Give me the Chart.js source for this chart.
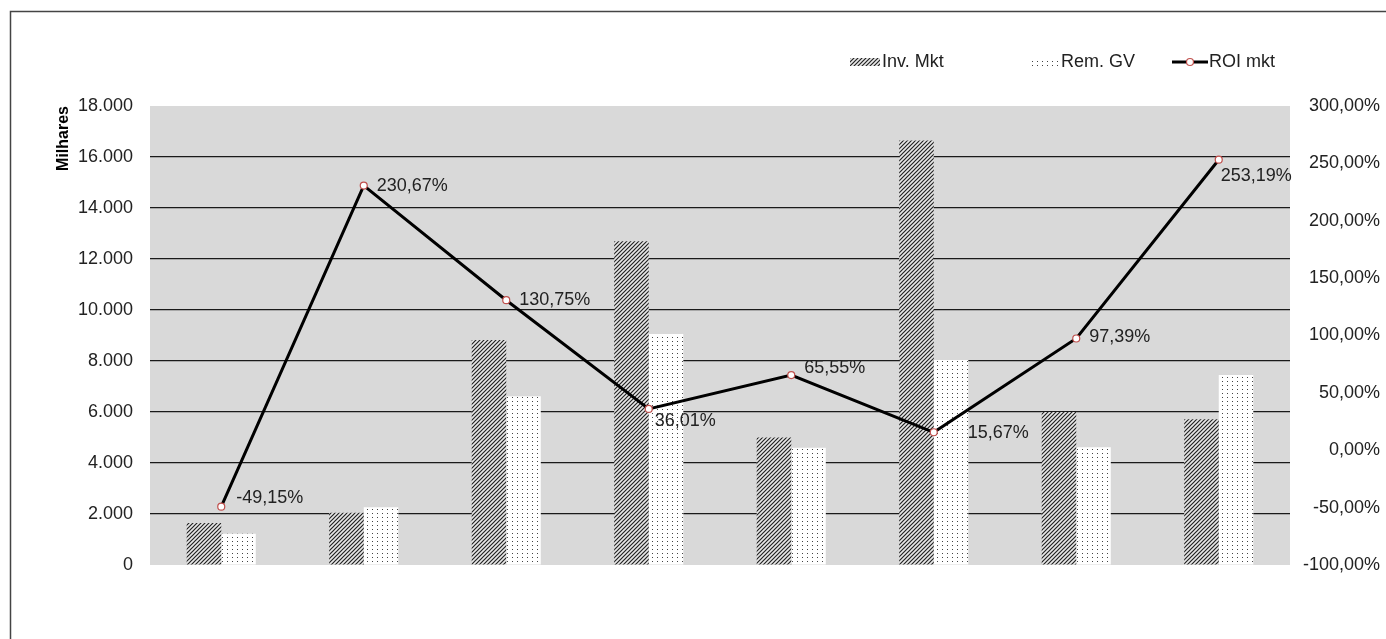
<!DOCTYPE html>
<html>
<head>
<meta charset="utf-8">
<script src="https://cdn.jsdelivr.net/npm/chart.js@4"></script>
<style>
  html, body { margin: 0; padding: 0; background: #fff; }
  #wrap { width: 1386px; height: 639px; position: relative; }
</style>
</head>
<body>
<div id="wrap"><canvas id="chart"></canvas></div>
<script>
const categories = ['1', '2', '3', '4', '5', '6', '7', '8'];
const invMkt = [1650, 2050, 8820, 12700, 5000, 16650, 6000, 5720];
const remGV = [1230, 2260, 6620, 9060, 4600, 8040, 4620, 7450];
const roiMkt = [-49.15, 230.67, 130.75, 36.01, 65.55, 15.67, 97.39, 253.19];

// label nudges (px) for the ROI values, as in the original
const labelDx = [15, 13, 13, 6, 13, 34, 13, 2];
const labelDy = [-9, 0, 0, 12, -7, 1, -1, 16];

const FONT = '"Liberation Sans", Arial, sans-serif';
const fmtThousands = v => v === 0 ? '0' : v.toLocaleString('de-DE');
const fmtPct = v => v.toFixed(2).replace('.', ',') + '%';

function hatchPattern() {
  const c = document.createElement('canvas');
  c.width = 4; c.height = 4;
  const g = c.getContext('2d');
  g.fillStyle = '#e8e8e8';
  g.fillRect(0, 0, 4, 4);
  g.strokeStyle = '#222';
  g.lineWidth = 1.2;
  g.beginPath();
  g.moveTo(-1, 5); g.lineTo(5, -1);
  g.moveTo(-1, 1); g.lineTo(1, -1);
  g.moveTo(3, 5); g.lineTo(5, 3);
  g.stroke();
  return g.createPattern(c, 'repeat');
}

function dotPattern() {
  const c = document.createElement('canvas');
  c.width = 5; c.height = 4;
  const g = c.getContext('2d');
  g.fillStyle = '#ffffff';
  g.fillRect(0, 0, 5, 4);
  g.fillStyle = '#444';
  g.fillRect(2, 1, 1, 1);
  return g.createPattern(c, 'repeat');
}

const hatch = hatchPattern();
const dots = dotPattern();

const decor = {
  id: 'decor',
  beforeDraw(chart) {
    const { ctx, chartArea: a } = chart;
    ctx.save();
    ctx.fillStyle = '#d9d9d9';
    ctx.fillRect(a.left, a.top, a.right - a.left, a.bottom - a.top);
    // outer frame (top + left edges visible)
    ctx.strokeStyle = '#444';
    ctx.lineWidth = 1.5;
    ctx.beginPath();
    ctx.moveTo(10.5, 639);
    ctx.lineTo(10.5, 11.5);
    ctx.lineTo(1386, 11.5);
    ctx.stroke();
    ctx.restore();
  },
  afterDraw(chart) {
    const { ctx } = chart;
    ctx.save();
    // data labels for ROI line
    const meta = chart.getDatasetMeta(2);
    ctx.font = '18px ' + FONT;
    ctx.fillStyle = '#222';
    ctx.textBaseline = 'middle';
    ctx.textAlign = 'left';
    meta.data.forEach((pt, i) => {
      ctx.fillText(fmtPct(roiMkt[i]), pt.x + labelDx[i], pt.y + labelDy[i]);
    });

    // legend
    const ly = 62;
    ctx.fillStyle = hatch;
    ctx.fillRect(850, ly - 4, 30, 8);
    ctx.fillStyle = dots;
    ctx.fillRect(1030, ly - 4, 29, 8);
    ctx.strokeStyle = '#000';
    ctx.lineWidth = 3;
    ctx.beginPath();
    ctx.moveTo(1172, ly); ctx.lineTo(1208, ly);
    ctx.stroke();
    ctx.beginPath();
    ctx.arc(1190, ly, 3.5, 0, Math.PI * 2);
    ctx.fillStyle = '#fff';
    ctx.fill();
    ctx.lineWidth = 1.2;
    ctx.strokeStyle = '#c0504d';
    ctx.stroke();
    ctx.fillStyle = '#222';
    const ds = chart.data.datasets;
    ctx.fillText(ds[0].label, 882, ly);
    ctx.fillText(ds[1].label, 1061, ly);
    ctx.fillText(ds[2].label, 1209, ly);
    ctx.restore();
  }
};

new Chart(document.getElementById('chart'), {
  data: {
    labels: categories,
    datasets: [
      {
        type: 'bar',
        label: 'Inv. Mkt',
        data: invMkt,
        yAxisID: 'y',
        backgroundColor: hatch,
        categoryPercentage: 0.485,
        barPercentage: 1,
        order: 1
      },
      {
        type: 'bar',
        label: 'Rem. GV',
        data: remGV,
        yAxisID: 'y',
        backgroundColor: dots,
        categoryPercentage: 0.485,
        barPercentage: 1,
        order: 1
      },
      {
        type: 'line',
        label: 'ROI mkt',
        data: roiMkt,
        yAxisID: 'y1',
        borderColor: '#000',
        borderWidth: 3,
        pointRadius: 3.5,
        pointBackgroundColor: '#fff',
        pointBorderColor: '#c0504d',
        pointBorderWidth: 1.2,
        tension: 0,
        order: 0
      }
    ]
  },
  options: {
    responsive: true,
    maintainAspectRatio: false,
    animation: false,
    layout: { padding: { left: 10, right: 6, top: 106, bottom: 74 } },
    plugins: {
      legend: { display: false },
      tooltip: { enabled: false }
    },
    scales: {
      x: {
        display: false,
        offset: true,
        grid: { display: false }
      },
      y: {
        position: 'left',
        min: 0,
        max: 18000,
        border: { display: false },
        grid: {
          drawTicks: false,
          color: c => (c.tick.value === 0 || c.tick.value === 18000) ? 'rgba(0,0,0,0)' : '#1a1a1a',
          lineWidth: 1.2
        },
        ticks: {
          stepSize: 2000,
          padding: 17,
          color: '#222',
          font: { family: FONT, size: 18 },
          callback: v => fmtThousands(v)
        },
        title: {
          display: true,
          text: 'Milhares',
          align: 'end',
          color: '#000',
          font: { family: FONT, size: 16, weight: 'bold' },
          padding: { top: 44, bottom: 0 }
        },
        afterFit: s => { s.width = 140; }
      },
      y1: {
        position: 'right',
        min: -100,
        max: 300,
        border: { display: false },
        grid: { display: false, drawTicks: false },
        ticks: {
          stepSize: 50,
          padding: 8,
          crossAlign: 'far',
          color: '#222',
          font: { family: FONT, size: 18 },
          callback: v => fmtPct(v)
        },
        afterFit: s => { s.width = 90; }
      }
    }
  },
  plugins: [decor]
});
</script>
</body>
</html>
